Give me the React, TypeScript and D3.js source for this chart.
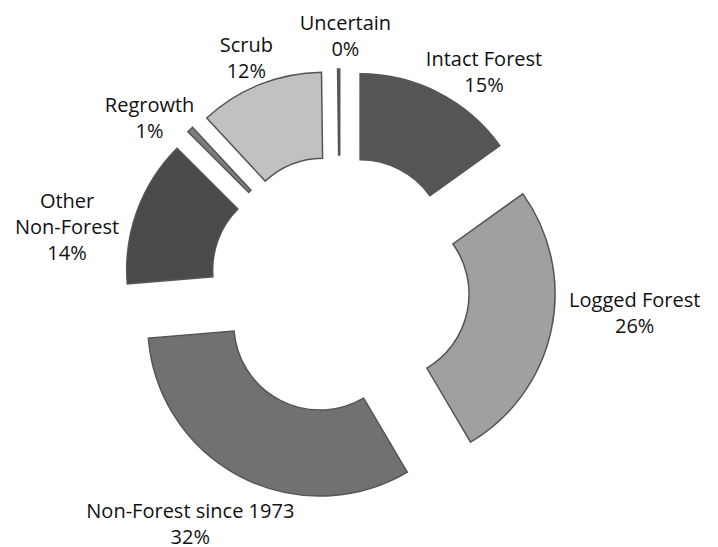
import React from "react";
import * as d3 from "d3";

const categories = [
  "Intact Forest",
  "Logged Forest",
  "Non-Forest since 1973",
  "Other Non-Forest",
  "Regrowth",
  "Scrub",
  "Uncertain",
];
const values = [15.1, 26.4, 32.2, 13.8, 0.6, 11.7, 0.2];
const fills = ["#555555", "#a0a0a0", "#717171", "#4a4a4a", "#7c7c7c", "#c1c1c1", "#5a5a5a"];
// label text lines (category name split for display)
const labelLines = [
  ["Intact Forest"],
  ["Logged Forest"],
  ["Non-Forest since 1973"],
  ["Other", "Non-Forest"],
  ["Regrowth"],
  ["Scrub"],
  ["Uncertain"],
];
// label layout: angular nudge (deg) from slice bisector and distance from centre
const labelLayout = [
  { dAngle: 6.9, dist: 257 },
  { dAngle: -6.5, dist: 296 },
  { dAngle: 4.7, dist: 282 },
  { dAngle: -8.2, dist: 279 },
  { dAngle: -4.9, dist: 253 },
  { dAngle: -0.6, dist: 246 },
  { dAngle: 1.6, dist: 249.5 },
];

const W = 718;
const H = 547;
const CX = 340;
const CY = 285;
const OUTER = 172;
const INNER = 86;
const EXPLODE = 44;
const LINE_H = 26;
const CAP_H = 14;

export default function App() {
  const total = d3.sum(values);
  const pie = d3
    .pie<number>()
    .sort(null)
    .value((d) => d)(values);
  const arc = d3.arc<d3.PieArcDatum<number>>().innerRadius(INNER).outerRadius(OUTER);
  const pct = d3.format(".0%");

  return (
    <div>
      <style>{`body{margin:0}`}</style>
      <svg width={W} height={H} style={{ display: "block", background: "#fff" }}>
        <g transform={`translate(${CX},${CY})`}>
          {pie.map((p, i) => {
            const mid = (p.startAngle + p.endAngle) / 2;
            const dx = EXPLODE * Math.sin(mid);
            const dy = -EXPLODE * Math.cos(mid);
            return (
              <path
                key={categories[i]}
                d={arc(p) || ""}
                transform={`translate(${dx},${dy})`}
                fill={fills[i]}
                stroke="#555555"
                strokeWidth={1.5}
                strokeLinejoin="miter"
              />
            );
          })}
          {pie.map((p, i) => {
            const mid = (p.startAngle + p.endAngle) / 2;
            const a = mid + (labelLayout[i].dAngle * Math.PI) / 180;
            const x = labelLayout[i].dist * Math.sin(a);
            const y = -labelLayout[i].dist * Math.cos(a);
            const lines = [...labelLines[i], pct(values[i] / total)];
            const blockH = (lines.length - 1) * LINE_H + CAP_H;
            const firstBase = y - blockH / 2 + CAP_H;
            return (
              <text
                key={"l" + i}
                x={x}
                y={firstBase}
                textAnchor="middle"
                fontFamily="'Open Sans', sans-serif"
                fontSize={20}
                fill="#111"
              >
                {lines.map((ln, j) => (
                  <tspan key={j} x={x} y={firstBase + j * LINE_H}>
                    {ln}
                  </tspan>
                ))}
              </text>
            );
          })}
        </g>
      </svg>
    </div>
  );
}
